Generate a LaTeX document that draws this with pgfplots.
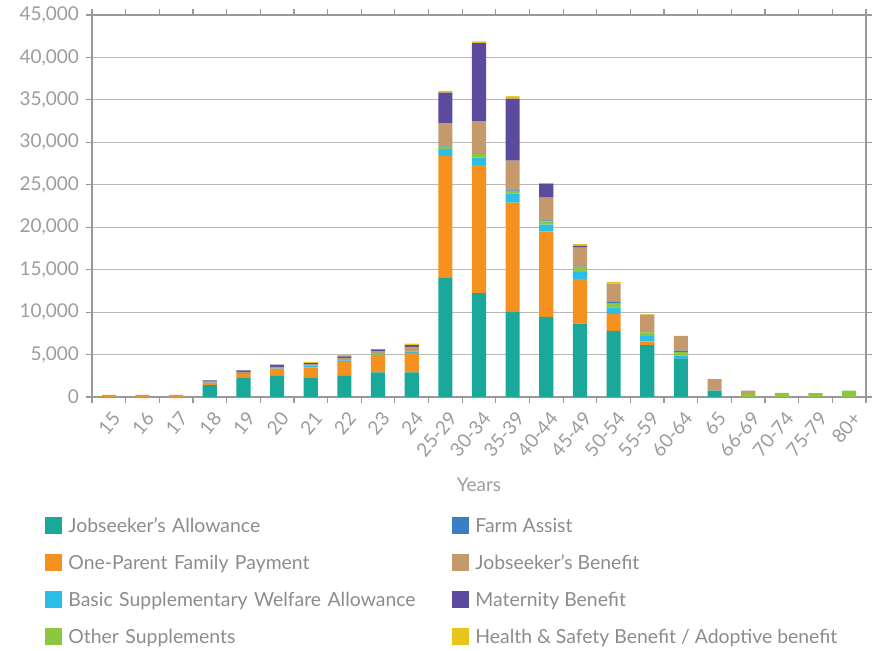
\documentclass[border=0pt]{standalone}
\usepackage{fontspec}
\setmainfont{Lato}
\usepackage{pgfplots}
\usepackage{pgfplotstable}
\pgfplotsset{compat=1.18}

\definecolor{cJA}{HTML}{1AA89A}
\definecolor{cOPF}{HTML}{F5921F}
\definecolor{cBSWA}{HTML}{2BBFE8}
\definecolor{cOS}{HTML}{8DC63F}
\definecolor{cFA}{HTML}{3A7FC1}
\definecolor{cJB}{HTML}{C49A6C}
\definecolor{cMB}{HTML}{5C4A9E}
\definecolor{cHS}{HTML}{E8C51A}
\definecolor{ticktxt}{HTML}{9C9C9C}
\definecolor{legtxt}{HTML}{8C8C8C}
\definecolor{axgray}{HTML}{999999}

% x = age group index, 15 ... 80+
\pgfplotstableread{
x  JA    OPF   BSWA OS  FA  JB   MB   HS
0  0     250   0    0   0   0    0    0
1  0     250   0    0   0   0    0    0
2  0     250   0    0   0   0    0    0
3  1400  300   50   0   0   50   150  0
4  2250  450   150  0   0   100  200  0
5  2500  800   50   0   0   200  250  0
6  2250  1250  200  0   0   100  200  150
7  2500  1650  150  0   0   300  200  150
8  2900  2050  50   200 0   200  200  0
9  2900  2300  150  0   0   550  200  200
10 14100 14300 800  300 50  2700 3600 200
11 12250 15050 900  400 50  3850 9200 200
12 10100 12800 1100 200 150 3500 7300 300
13 9450  10050 800  400 100 2700 1600 100
14 8650  5250  850  550 50  2250 200  200
15 7800  1950  800  450 200 2150 0    200
16 6100  450   650  400 50  2050 0    50
17 4450  50    400  400 150 1750 0    0
18 750   0     0    0   0   1350 0    0
19 0     0     0    500 0   250  0    0
20 0     0     0    500 0   0    0    0
21 0     0     0    450 0   0    0    0
22 0     0     0    750 0   0    0    0
}\data

\begin{document}
\begin{tikzpicture}
\path[use as bounding box] (-46pt,-127pt) rectangle (392.5pt,198.5pt);
\begin{axis}[
    width=387pt, height=191pt, scale only axis,
    ybar stacked, bar width=0.42,
    legend image code/.code={\fill[#1] (0pt,-4.25pt) rectangle (8.5pt,4.25pt); \path (11.5pt,0pt);},
    xmin=-0.5, xmax=22.5, ymin=0, ymax=45000,
    xtick={0,...,22},
    xticklabels={15,16,17,18,19,20,21,22,23,24,25-29,30-34,35-39,40-44,45-49,50-54,55-59,60-64,65,66-69,70-74,75-79,80+},
    major x tick style={draw=none},
    minor xtick={-0.5,0.5,...,22.5},
    tick align=outside,
    major tick length=3pt, minor tick length=3pt,
    tick style={axgray, line width=0.6pt},
    ytick={0,5000,...,45000},
    scaled y ticks=false,
    ymajorgrids, grid style={gray!55, line width=0.6pt},
    axis line style={axgray, line width=0.9pt},
    /pgf/number format/.cd, 1000 sep={,}, assume math mode=true, /pgfplots/.cd,
    tick label style={font=\fontsize{9.5}{11}\selectfont, text=ticktxt},
    xticklabel style={xshift=1pt, yshift=-2pt, rotate=50, anchor=north east, inner sep=1pt},
    xlabel={Years},
    xlabel style={at={(axis description cs:0.5,0)}, anchor=center, yshift=-44pt,
        font=\fontsize{9.5}{11}\selectfont, text=ticktxt},
    legend columns=4, transpose legend,
    legend style={at={(axis description cs:-0.0607,-0.3076)}, anchor=north west,
        draw=none, fill=none, inner sep=0pt, row sep=7.5pt, column sep=0pt,
        font=\fontsize{9.7}{12}\selectfont, text=legtxt,
        nodes={inner sep=0pt, text height=9pt, text depth=2pt},
        /tikz/column 2/.style={text width=192pt}},
    legend cell align=left,
]
\addplot[fill=cJA, draw=none] table[x=x, y=JA] {\data};
\addplot[fill=cOPF, draw=none] table[x=x, y=OPF] {\data};
\addplot[fill=cBSWA, draw=none] table[x=x, y=BSWA] {\data};
\addplot[fill=cOS, draw=none] table[x=x, y=OS] {\data};
\addplot[fill=cFA, draw=none] table[x=x, y=FA] {\data};
\addplot[fill=cJB, draw=none] table[x=x, y=JB] {\data};
\addplot[fill=cMB, draw=none] table[x=x, y=MB] {\data};
\addplot[fill=cHS, draw=none] table[x=x, y=HS] {\data};
\legend{Jobseeker's Allowance, One-Parent Family Payment,
    Basic Supplementary Welfare Allowance, Other Supplements,
    Farm Assist, Jobseeker’s Benefit, Maternity Benefit,
    Health \& Safety Benefit / Adoptive benefit}
\end{axis}
\end{tikzpicture}
\end{document}
